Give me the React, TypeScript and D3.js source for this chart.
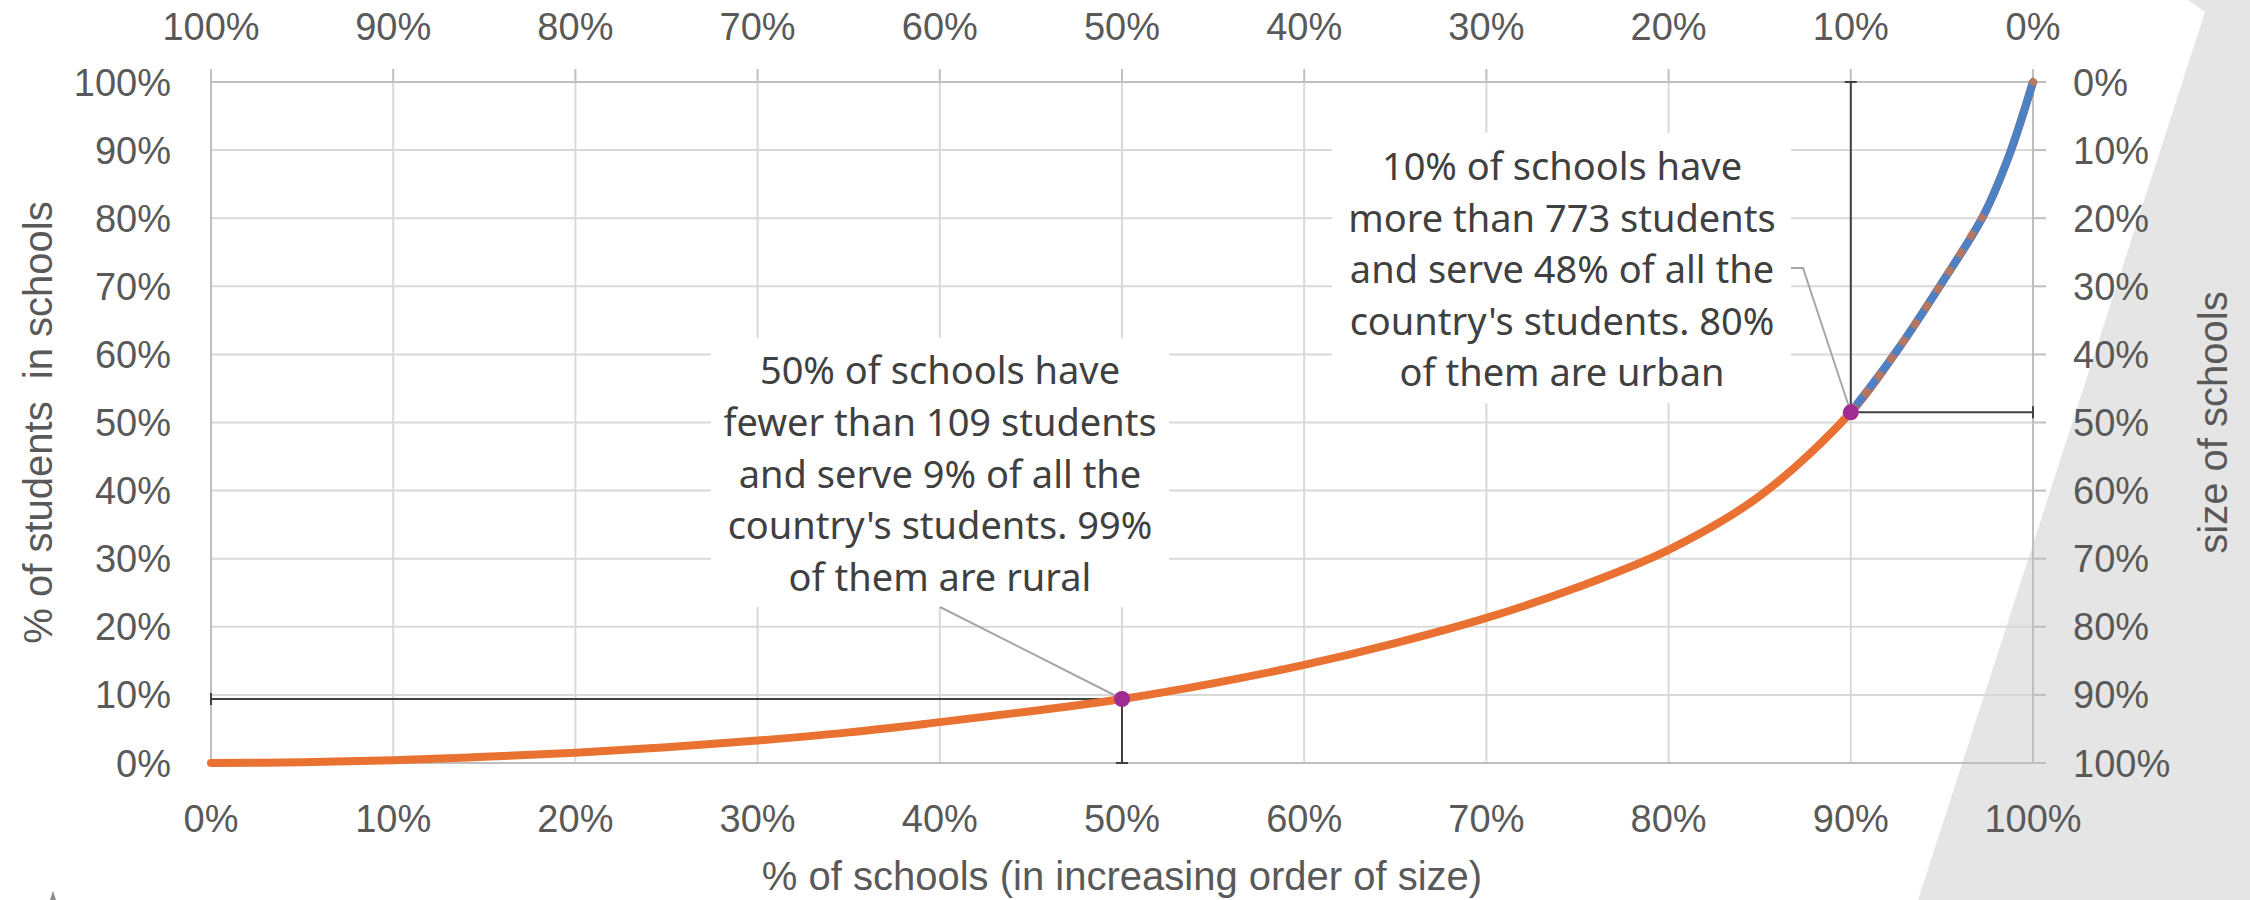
import React from "react";
import * as d3 from "d3";

// ---------- data ----------
const schoolShare = [0, 0.05, 0.1, 0.15, 0.2, 0.25, 0.3, 0.35, 0.4, 0.45, 0.5, 0.55, 0.6, 0.65, 0.7, 0.75, 0.8, 0.85, 0.9, 0.925, 0.95, 0.973, 0.987, 1];
const studentShare = [0, 0.001, 0.004, 0.009, 0.015, 0.023, 0.033, 0.045, 0.06, 0.076, 0.094, 0.117, 0.144, 0.176, 0.213, 0.258, 0.313, 0.392, 0.515, 0.604, 0.705, 0.805, 0.893, 1];
const markerSchools = [0.5, 0.9];
const markerStudents = [0.094, 0.515];
const tickValues = [0, 0.1, 0.2, 0.3, 0.4, 0.5, 0.6, 0.7, 0.8, 0.9, 1];
const bottomTickLabels = ["0%", "10%", "20%", "30%", "40%", "50%", "60%", "70%", "80%", "90%", "100%"];
const topTickLabels = ["100%", "90%", "80%", "70%", "60%", "50%", "40%", "30%", "20%", "10%", "0%"];
const leftTickLabels = ["0%", "10%", "20%", "30%", "40%", "50%", "60%", "70%", "80%", "90%", "100%"];
const rightTickLabels = ["100%", "90%", "80%", "70%", "60%", "50%", "40%", "30%", "20%", "10%", "0%"];
const note1 = ["50% of schools have", "fewer than 109 students", "and serve 9% of all the", "country's students. 99%", "of them are rural"];
const note2 = ["10% of schools have", "more than 773 students", "and serve 48% of all the", "country's students. 80%", "of them are urban"];
const xTitle = "% of schools (in increasing order of size)";
const yTitle = "% of students  in schools";
const y2Title = "size of schools";

// ---------- layout ----------
const W = 2250, H = 900;
const L = 211, R = 2033, T = 82, B = 763;
const x = d3.scaleLinear().domain([0, 1]).range([L, R]);
const y = d3.scaleLinear().domain([0, 1]).range([B, T]);

const axisFont = "'Liberation Sans', Arial, sans-serif";
const noteFont = "'Noto Sans', 'Open Sans', sans-serif";
const tickColor = "#595959";
const gridColor = "#d9d9d9";
const axisColor = "#bfbfbf";
const refColor = "#404040";

export default function App() {
  const pts = schoolShare.map((s, i) => [s, studentShare[i]] as [number, number]);
  const line = d3.line<[number, number]>().x(d => x(d[0])).y(d => y(d[1])).curve(d3.curveCatmullRom.alpha(0.5));
  const fullPath = line(pts) || "";
  const upper = pts.filter(d => d[0] >= 0.9);
  const upperPath = line(upper) || "";
  const midPts = pts.filter(d => d[0] >= 0.9 && d[0] <= 0.973);
  const midPath = line(midPts) || "";

  const box1 = { x0: 711, x1: 1169, y0: 338, y1: 607, cx: 940, firstBase: 384, lh: 51.8 };
  const box2 = { x0: 1332, x1: 1791, y0: 133, y1: 403, cx: 1562, firstBase: 180, lh: 51.6 };

  const cap = 6;
  const p1 = { x: x(markerSchools[0]), y: y(markerStudents[0]) };
  const p2 = { x: x(markerSchools[1]), y: y(markerStudents[1]) };

  const star = d3.symbol().type(d3.symbolStar).size(260)() || "";

  return (
    <svg width={W} height={H} style={{ position: "absolute", left: 0, top: 0, display: "block", background: "#fff" }}>
      <rect x={0} y={0} width={W} height={H} fill="#ffffff" />
      {/* grey decoration */}
      <polygon points="2188,0 2205,12 1918,900 2250,900 2250,0" fill="#e5e5e5" />

      {/* gridlines */}
      {tickValues.map((t, i) => (
        <line key={"gh" + i} x1={L} x2={R} y1={y(t)} y2={y(t)} stroke={gridColor} strokeWidth={2} />
      ))}
      {tickValues.map((t, i) => (
        <line key={"gv" + i} x1={x(t)} x2={x(t)} y1={T} y2={B} stroke={gridColor} strokeWidth={2} />
      ))}

      {/* axis lines */}
      <line x1={L} x2={R} y1={B} y2={B} stroke={axisColor} strokeWidth={2} />
      <line x1={L} x2={R} y1={T} y2={T} stroke={axisColor} strokeWidth={2} />
      <line x1={L} x2={L} y1={T} y2={B} stroke={axisColor} strokeWidth={2} />
      <line x1={R} x2={R} y1={T} y2={B} stroke={axisColor} strokeWidth={2} />
      {/* secondary ticks */}
      {tickValues.map((t, i) => (
        <line key={"tt" + i} x1={x(t)} x2={x(t)} y1={T} y2={T - 13} stroke={axisColor} strokeWidth={2} />
      ))}
      {tickValues.map((t, i) => (
        <line key={"rt" + i} x1={R} x2={R + 13} y1={y(t)} y2={y(t)} stroke={axisColor} strokeWidth={2} />
      ))}

      {/* tick labels */}
      <g fontFamily={axisFont} fontSize={38} fill={tickColor}>
        {tickValues.map((t, i) => (
          <text key={"bl" + i} x={x(t)} y={832} textAnchor="middle">{bottomTickLabels[i]}</text>
        ))}
        {tickValues.map((t, i) => (
          <text key={"tl" + i} x={x(t)} y={40} textAnchor="middle">{topTickLabels[i]}</text>
        ))}
        {tickValues.map((t, i) => (
          <text key={"ll" + i} x={171} y={y(t) + 13.5} textAnchor="end">{leftTickLabels[i]}</text>
        ))}
        {tickValues.map((t, i) => (
          <text key={"rl" + i} x={2073} y={y(t) + 13.5} textAnchor="start">{rightTickLabels[i]}</text>
        ))}
      </g>

      {/* axis titles */}
      <g fontFamily={axisFont} fontSize={40} fill={tickColor}>
        <text x={(L + R) / 2} y={890} textAnchor="middle" style={{ whiteSpace: "pre" }}>{xTitle}</text>
        <text transform={`translate(52, ${(T + B) / 2}) rotate(-90)`} textAnchor="middle" style={{ whiteSpace: "pre" }}>{yTitle}</text>
        <text transform={`translate(2227, ${(T + B) / 2}) rotate(-90)`} textAnchor="middle">{y2Title}</text>
      </g>

      {/* annotation boxes (cover gridlines) */}
      <rect x={box1.x0} y={box1.y0} width={box1.x1 - box1.x0} height={box1.y1 - box1.y0} fill="#ffffff" />
      <rect x={box2.x0} y={box2.y0} width={box2.x1 - box2.x0} height={box2.y1 - box2.y0} fill="#ffffff" />

      {/* reference (error-bar) lines */}
      <g stroke={refColor} strokeWidth={2} fill="none">
        <line x1={x(0)} x2={p1.x} y1={p1.y} y2={p1.y} />
        <line x1={x(0)} x2={x(0)} y1={p1.y - cap} y2={p1.y + cap} />
        <line x1={p1.x} x2={p1.x} y1={p1.y} y2={y(0)} />
        <line x1={p1.x - cap} x2={p1.x + cap} y1={y(0)} y2={y(0)} />
        <line x1={p2.x} x2={p2.x} y1={p2.y} y2={y(1)} />
        <line x1={p2.x - cap} x2={p2.x + cap} y1={y(1)} y2={y(1)} />
        <line x1={p2.x} x2={x(1)} y1={p2.y} y2={p2.y} />
        <line x1={x(1)} x2={x(1)} y1={p2.y - cap} y2={p2.y + cap} />
      </g>

      {/* curve */}
      <path d={fullPath} fill="none" stroke="#E97132" strokeWidth={8} strokeLinecap="round" />
      <path d={upperPath} fill="none" stroke="#4E81C4" strokeWidth={8} />
      <path d={midPath} fill="none" stroke="#D9733F" strokeWidth={7} strokeDasharray="9 12" opacity={0.75} />
      <path d={`M${x(1)},${y(1) - 5} L${x(1) + 5},${y(1)} L${x(1)},${y(1) + 5} L${x(1) - 5},${y(1)} Z`} fill="#B07A63" />

      {/* leader lines */}
      <g stroke="#a6a6a6" strokeWidth={2} fill="none">
        <polyline points={`${box1.cx},${box1.y1} ${p1.x},${p1.y}`} />
        <polyline points={`${box2.x1},268 ${box2.x1 + 12},268 ${p2.x},${p2.y}`} />
      </g>

      {/* highlight points */}
      {markerSchools.map((s, i) => (
        <circle key={"m" + i} cx={x(s)} cy={y(markerStudents[i])} r={8} fill="#A02B93" />
      ))}

      {/* annotation text */}
      <g fontFamily={noteFont} fontSize={38} fill="#404040" textAnchor="middle">
        {note1.map((t, i) => (
          <text key={"n1" + i} x={box1.cx} y={box1.firstBase + i * box1.lh}>{t}</text>
        ))}
        {note2.map((t, i) => (
          <text key={"n2" + i} x={box2.cx} y={box2.firstBase + i * box2.lh}>{t}</text>
        ))}
      </g>

      {/* small icon at bottom-left, mostly cut off */}
      <path d={star} transform="translate(53, 906)" fill="#8c8c8c" />
    </svg>
  );
}
